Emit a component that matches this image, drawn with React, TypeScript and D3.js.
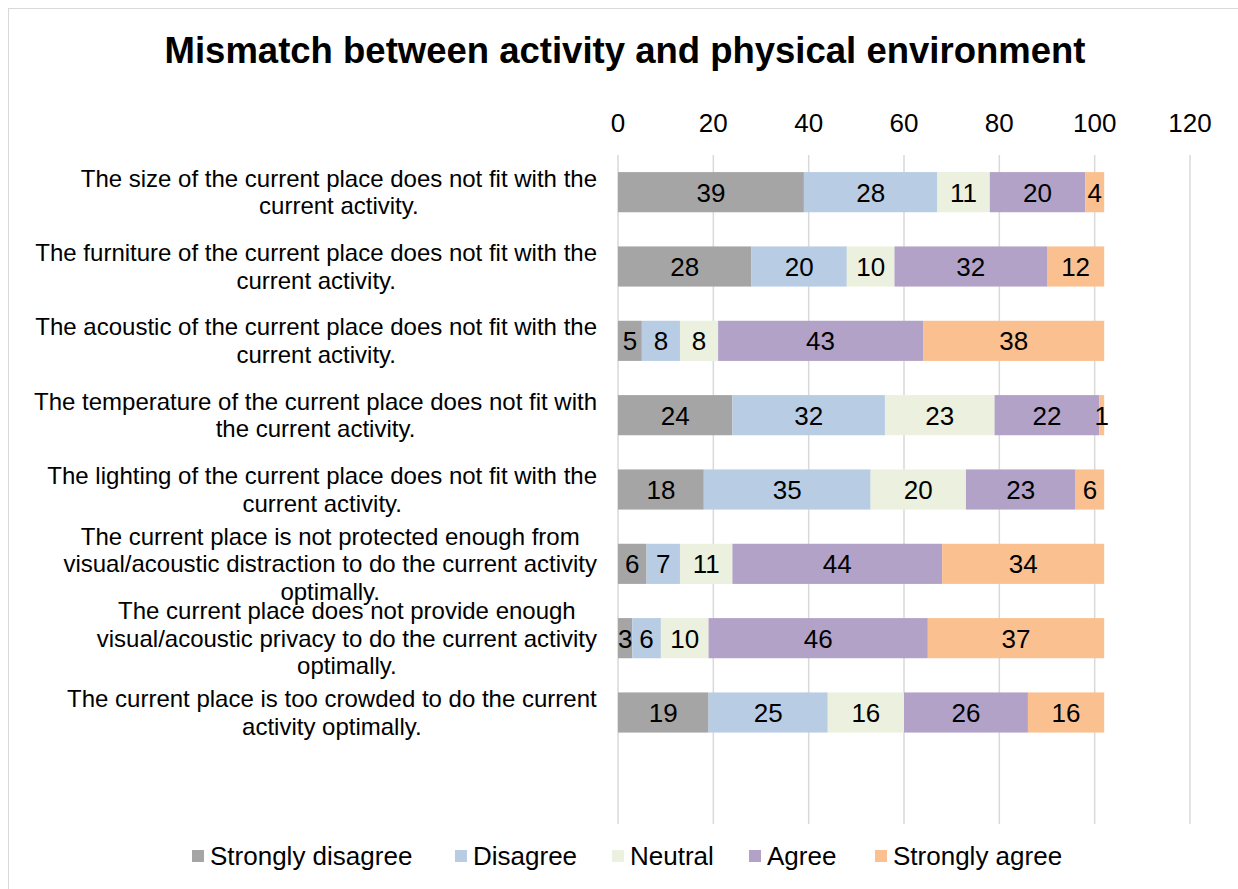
import React, { useEffect, useRef } from 'react';
import * as d3 from 'd3';

const categories: string[][] = [
  ['The size of the current place does not fit with the', 'current activity.'],
  ['The furniture of the current place does not fit with the', 'current activity.'],
  ['The acoustic of the current place does not fit with the', 'current activity.'],
  ['The temperature of the current place does not fit with', 'the current activity.'],
  ['The lighting of the current place does not fit with the', 'current activity.'],
  ['The current place is not protected enough from', 'visual/acoustic distraction to do the current activity', 'optimally.'],
  ['The current place does not provide enough', 'visual/acoustic privacy to do the current activity', 'optimally.'],
  ['The current place is too crowded to do the current', 'activity optimally.'],
];

const seriesNames = ['Strongly disagree', 'Disagree', 'Neutral', 'Agree', 'Strongly agree'];
const seriesColors = ['#a5a5a5', '#b8cce4', '#ebf1de', '#b2a2c7', '#fac090'];

const stronglyDisagree = [39, 28, 5, 24, 18, 6, 3, 19];
const disagree = [28, 20, 8, 32, 35, 7, 6, 25];
const neutral = [11, 10, 8, 23, 20, 11, 10, 16];
const agree = [20, 32, 43, 22, 23, 44, 46, 26];
const stronglyAgree = [4, 12, 38, 1, 6, 34, 37, 16];

const xTicks = [0, 20, 40, 60, 80, 100, 120];

const W = 1238;
const H = 889;
const FONT = 'Liberation Sans, Arial, sans-serif';

export default function App() {
  const svgRef = useRef<SVGSVGElement>(null);

  useEffect(() => {
    const svg = d3.select(svgRef.current);
    svg.selectAll('*').remove();

    const plot = { left: 618, right: 1190, top: 155, bottom: 824 };
    const values = [stronglyDisagree, disagree, neutral, agree, stronglyAgree];

    const rows = categories.map((c, i) => {
      const r: any = { idx: String(i) };
      seriesNames.forEach((s, j) => (r[s] = values[j][i]));
      return r;
    });

    const x = d3.scaleLinear().domain([0, 120]).range([plot.left, plot.right]);
    // 9 slots: the last one is left empty, as in the original
    const y = d3.scaleBand<string>()
      .domain(d3.range(9).map(String))
      .range([plot.top, plot.bottom])
      .paddingInner(0.46)
      .paddingOuter(0.23);

    svg.append('rect')
      .attr('x', 8.5).attr('y', 8.5)
      .attr('width', W).attr('height', H)
      .attr('fill', '#fff').attr('stroke', '#d9d9d9');

    // Title
    svg.append('text')
      .attr('x', 625).attr('y', 63)
      .attr('text-anchor', 'middle')
      .style('font-family', FONT)
      .style('font-size', '36.5px')
      .style('font-weight', 'bold')
      .text('Mismatch between activity and physical environment');

    // Gridlines
    svg.append('g').selectAll('line')
      .data(xTicks)
      .join('line')
      .attr('x1', d => x(d)).attr('x2', d => x(d))
      .attr('y1', plot.top).attr('y2', plot.bottom)
      .attr('stroke', '#d9d9d9').attr('stroke-width', 1.5);

    // Top axis labels
    svg.append('g').selectAll('text')
      .data(xTicks)
      .join('text')
      .attr('x', d => x(d)).attr('y', 132)
      .attr('text-anchor', 'middle')
      .style('font-family', FONT)
      .style('font-size', '26px')
      .attr('fill', '#000')
      .text(d => d);

    // Stacked bars
    const stack = d3.stack<any>().keys(seriesNames)(rows);
    const layers = svg.append('g').selectAll('g')
      .data(stack)
      .join('g')
      .attr('fill', (_, i) => seriesColors[i]);

    layers.selectAll('rect')
      .data(d => d)
      .join('rect')
      .attr('x', d => x(d[0]))
      .attr('y', d => y(d.data.idx)!)
      .attr('width', d => x(d[1]) - x(d[0]))
      .attr('height', y.bandwidth());

    layers.selectAll('text')
      .data(d => d)
      .join('text')
      .attr('x', d => x((d[0] + d[1]) / 2))
      .attr('y', d => y(d.data.idx)! + y.bandwidth() / 2)
      .attr('dy', '0.36em')
      .attr('text-anchor', 'middle')
      .attr('fill', '#000')
      .style('font-family', FONT)
      .style('font-size', '26px')
      .text(d => d[1] - d[0]);

    // Category labels, centered block with right edge at 597
    const labelRight = 597;
    const lineH = 27.5;
    categories.forEach((lines, i) => {
      const cy = y(String(i))! + y.bandwidth() / 2;
      const g = svg.append('g');
      const t = g.append('text')
        .attr('text-anchor', 'middle')
        .style('font-family', FONT)
        .style('font-size', '24px')
        .attr('fill', '#000');
      lines.forEach((ln, k) => {
        t.append('tspan')
          .attr('x', 0)
          .attr('y', (k - (lines.length - 1) / 2) * lineH)
          .attr('dy', '0.35em')
          .text(ln);
      });
      const bb = (t.node() as SVGTextElement).getBBox();
      g.attr('transform', `translate(${labelRight - (bb.x + bb.width)},${cy})`);
    });

    // Legend
    const legendX = [192, 455, 612, 749, 875];
    const legend = svg.append('g').selectAll('g')
      .data(seriesNames)
      .join('g')
      .attr('transform', (_, i) => `translate(${legendX[i]},856)`);
    legend.append('rect')
      .attr('x', 0).attr('y', -6)
      .attr('width', 12).attr('height', 12)
      .attr('fill', (_, i) => seriesColors[i]);
    legend.append('text')
      .attr('x', 18).attr('dy', '0.36em')
      .style('font-family', FONT)
      .style('font-size', '26px')
      .attr('fill', '#000')
      .text(d => d);
  }, []);

  return (
    <div style={{ position: 'absolute', left: 0, top: 0 }}>
      <svg ref={svgRef} width={W} height={H} style={{ display: 'block' }} />
    </div>
  );
}
